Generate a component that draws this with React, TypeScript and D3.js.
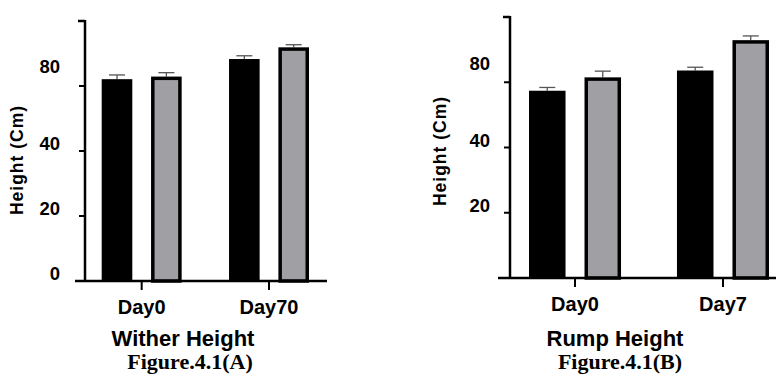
import * as d3 from "d3";

// Wither height (A)
const witherDays = ["Day0", "Day70"];
const witherBlack = [62.1, 68.3];
const witherBlackErr = [1.3, 1.0];
const witherGray = [62.9, 71.9];
const witherGrayErr = [1.2, 0.8];
const witherTicks = [0, 20, 40, 60];
const witherTickLabels = ["0", "20", "40", "80"];

// Rump height (B)
const rumpDays = ["Day0", "Day7"];
const rumpBlack = [57.4, 63.6];
const rumpBlackErr = [1.0, 1.0];
const rumpGray = [61.5, 72.9];
const rumpGrayErr = [1.9, 1.3];
const rumpTicks = [20, 40, 60];
const rumpTickLabels = ["20", "40", "80"];

const groups = ["black", "gray"];
const font = "'Liberation Sans', Arial, sans-serif";

type PanelProps = {
  days: string[];
  black: number[];
  blackErr: number[];
  gray: number[];
  grayErr: number[];
  ticks: number[];
  tickLabels: string[];
  title: string;
  figure: string;
  axisX: number;
  axisTop: number;
  base: number;
  xLineStart: number;
  xLineEnd: number;
  barStart: number;
  barEnd: number;
  outerPad: number;
  innerPad: number;
  labelRight: number;
  yTitleX: number;
  yTitleY: number;
  titleX: number;
  figX: number;
};

function Panel(p: PanelProps) {
  const y = d3.scaleLinear().domain([0, 80]).range([p.base, p.axisTop]);
  const x = d3.scaleBand().domain(p.days).range([p.barStart, p.barEnd]).paddingInner(p.outerPad);
  const xi = d3.scaleBand().domain(groups).range([0, x.bandwidth()]).paddingInner(p.innerPad);

  const bars = p.days.flatMap((d, i) => [
    { day: d, g: "black", v: p.black[i], e: p.blackErr[i] },
    { day: d, g: "gray", v: p.gray[i], e: p.grayErr[i] },
  ]);
  const sw = 3.5;

  return (
    <g>
      {/* error bars behind the bars */}
      {bars.map((b, i) => {
        const cx = (x(b.day) ?? 0) + (xi(b.g) ?? 0) + xi.bandwidth() / 2;
        return (
          <g key={"e" + i} stroke="#555" strokeWidth={1.3}>
            <line x1={cx} x2={cx} y1={y(b.v)} y2={y(b.v + b.e)} />
            <line x1={cx - 8} x2={cx + 8} y1={y(b.v + b.e)} y2={y(b.v + b.e)} />
          </g>
        );
      })}
      {bars.map((b, i) => {
        const bx = (x(b.day) ?? 0) + (xi(b.g) ?? 0);
        const w = xi.bandwidth();
        return b.g === "black" ? (
          <rect key={"b" + i} x={bx} y={y(b.v)} width={w} height={p.base - y(b.v)} fill="#000" />
        ) : (
          <rect
            key={"b" + i}
            x={bx + sw / 2}
            y={y(b.v) + sw / 2}
            width={w - sw}
            height={p.base - y(b.v) - sw / 2}
            fill="#a0a0a4"
            stroke="#000"
            strokeWidth={sw}
          />
        );
      })}
      {/* y axis */}
      <line x1={p.axisX} x2={p.axisX} y1={p.axisTop - 1} y2={p.base + 1} stroke="#000" strokeWidth={2.5} />
      <line x1={p.axisX - 7} x2={p.axisX} y1={p.axisTop} y2={p.axisTop} stroke="#000" strokeWidth={2.5} />
      {p.ticks.map((t, i) => (
        <g key={"t" + i}>
          <line x1={p.axisX - 6} x2={p.axisX} y1={y(t)} y2={y(t)} stroke="#000" strokeWidth={2} />
          <text
            x={p.labelRight}
            y={y(t) - (i === p.ticks.length - 1 ? 19 : 7)}
            dy="0.35em"
            textAnchor="end"
            fontFamily={font}
            fontWeight="bold"
            fontSize={18.5}
          >
            {p.tickLabels[i]}
          </text>
        </g>
      ))}
      {/* x axis */}
      <line x1={p.xLineStart} x2={p.xLineEnd} y1={p.base} y2={p.base} stroke="#000" strokeWidth={2.5} />
      {p.days.map((d) => {
        const cx = (x(d) ?? 0) + x.bandwidth() / 2;
        return (
          <g key={d}>
            <line x1={cx} x2={cx} y1={p.base} y2={p.base + 9} stroke="#000" strokeWidth={2} />
            <text x={cx} y={p.base + 33} textAnchor="middle" fontFamily={font} fontWeight="bold" fontSize={20}>
              {d}
            </text>
          </g>
        );
      })}
      <text
        transform={`translate(${p.yTitleX},${p.yTitleY}) rotate(-90)`}
        dy="0.35em"
        textAnchor="middle"
        fontFamily={font}
        fontWeight="bold"
        fontSize={17.5}
        letterSpacing={1}
      >
        Height (Cm)
      </text>
      <text x={p.titleX} y={346} textAnchor="middle" fontFamily={font} fontWeight="bold" fontSize={22}>
        {p.title}
      </text>
      <text
        x={p.figX}
        y={369}
        textAnchor="middle"
        fontFamily="'Liberation Serif', 'Times New Roman', serif"
        fontWeight="bold"
        fontSize={22}
      >
        {p.figure}
      </text>
    </g>
  );
}

export default function App() {
  return (
    <svg width={776} height={374} style={{ position: "absolute", left: 0, top: 0, background: "#fff" }}>
      <Panel
        days={witherDays}
        black={witherBlack}
        blackErr={witherBlackErr}
        gray={witherGray}
        grayErr={witherGrayErr}
        ticks={witherTicks}
        tickLabels={witherTickLabels}
        title="Wither Height"
        figure="Figure.4.1(A)"
        axisX={85}
        axisTop={21}
        base={281}
        xLineStart={75}
        xLineEnd={327}
        barStart={101.7}
        barEnd={309}
        outerPad={0.372}
        innerPad={0.38}
        labelRight={60}
        yTitleX={17}
        yTitleY={160}
        titleX={183}
        figX={190}
      />
      <Panel
        days={rumpDays}
        black={rumpBlack}
        blackErr={rumpBlackErr}
        gray={rumpGray}
        grayErr={rumpGrayErr}
        ticks={rumpTicks}
        tickLabels={rumpTickLabels}
        title="Rump Height"
        figure="Figure.4.1(B)"
        axisX={510}
        axisTop={17}
        base={278}
        xLineStart={498}
        xLineEnd={776}
        barStart={529}
        barEnd={769}
        outerPad={0.378}
        innerPad={0.342}
        labelRight={490}
        yTitleX={440}
        yTitleY={151}
        titleX={615}
        figX={620}
      />
    </svg>
  );
}
